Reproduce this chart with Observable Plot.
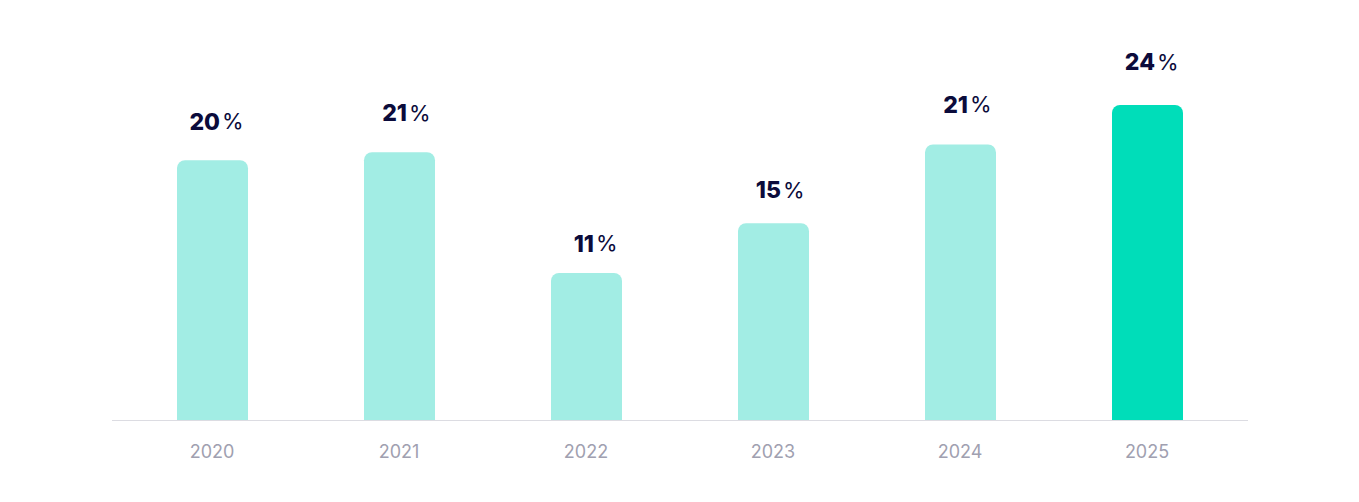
<!DOCTYPE html>
<html>
<head>
<meta charset="utf-8">
<script src="https://cdn.jsdelivr.net/npm/d3@7"></script>
<script src="https://cdn.jsdelivr.net/npm/@observablehq/plot@0.6"></script>
<style>
  html, body { margin: 0; padding: 0; background: #fff; }
  #chart svg { display: block; }
</style>
</head>
<body>
<div id="chart"></div>
<script>
const years = ["2020", "2021", "2022", "2023", "2024", "2025"];
const values = [19.8, 20.4, 11.2, 15.0, 21.0, 24.0];
const labels = ["20", "21", "11", "15", "21", "24"];
const highlight = ["2025"];

const data = years.map((y, i) => ({year: y, value: values[i], label: labels[i], hi: highlight.includes(y)}));

const chart = Plot.plot({
  width: 1359,
  height: 502,
  marginLeft: 112,
  marginRight: 111,
  marginTop: 0,
  marginBottom: 82,
  style: {fontFamily: "Inter, 'Noto Sans', sans-serif", background: "#fff"},
  x: {domain: years, paddingInner: 0.62, paddingOuter: 0.347, label: null},
  y: {domain: [0, 32], axis: null},
  marks: [
    Plot.barY(data, {
      x: "year", y: "value",
      fill: d => d.hi ? "#00ddb9" : "#a2ede4",
      rx: 8, insetBottom: -12, clip: true
    }),
    Plot.ruleY([0], {stroke: "#dcdce2", strokeWidth: 1}),
    Plot.axisX({
      tickSize: 0, tickPadding: 25, fontSize: 18, color: "#a0a0b0", label: null, dx: -1
    }),
    Plot.text(data, {
      x: "year", y: d => d.value * 1.082, text: "label",
      dy: -17, dx: 7, textAnchor: "end", lineAnchor: "middle",
      fontSize: 23, fontWeight: 800, fill: "#0b0b3b"
    }),
    Plot.text(data, {
      x: "year", y: d => d.value * 1.082, text: () => "%",
      dy: -17, dx: 9, textAnchor: "start", lineAnchor: "middle",
      fontSize: 22, fontWeight: 400, fill: "#0b0b3b"
    })
  ]
});
document.getElementById("chart").appendChild(chart);
</script>
</body>
</html>
